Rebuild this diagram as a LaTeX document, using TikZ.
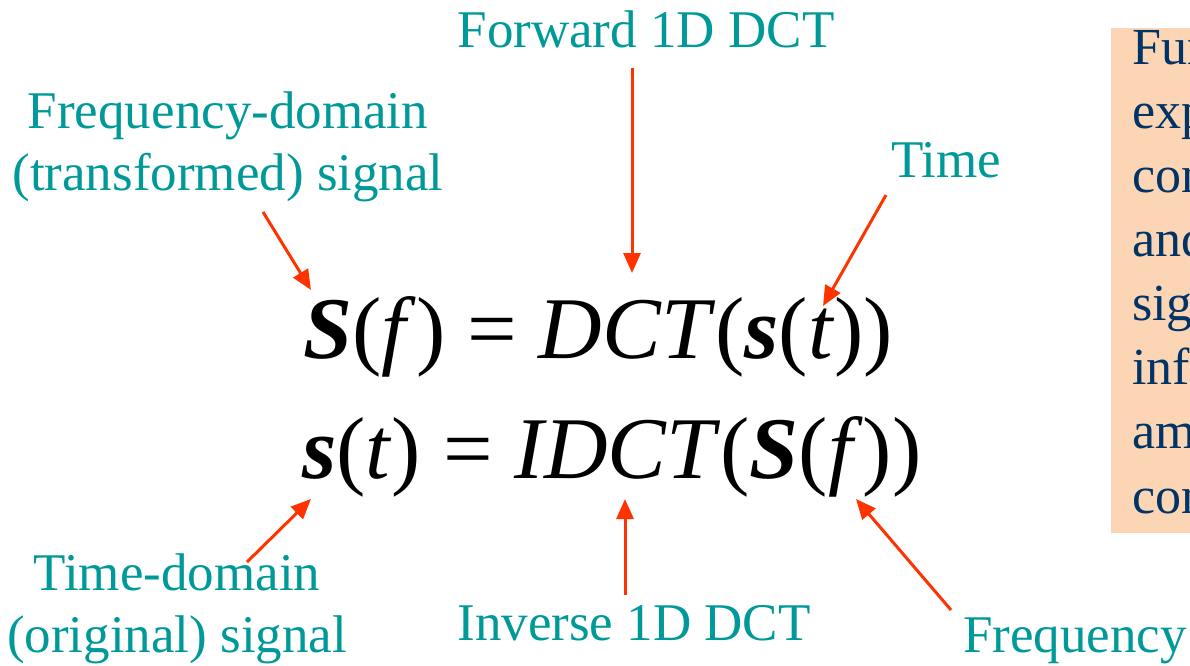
\documentclass[tikz,border=0pt]{standalone}
\usepackage{fontspec}
\setmainfont{Liberation Serif}
\usetikzlibrary{arrows.meta}
\definecolor{labelteal}{RGB}{0,153,153}
\definecolor{arrowred}{RGB}{255,51,0}
\definecolor{notepeach}{RGB}{252,213,180}
\definecolor{notenavy}{RGB}{0,51,102}
\newcommand{\sigS}{\textbf{\textit{S}}}
\newcommand{\sigs}{\textbf{\textit{s}}}
\newcommand{\vf}{\textit{f}}
\newcommand{\vt}{\textit{t}}

\begin{document}
\begin{tikzpicture}[
  x=1pt,y=-1pt,
  lbl/.style={text=labelteal,font=\fontsize{53}{62}\selectfont,inner sep=0pt},
  eqn/.style={font=\fontsize{88}{96}\selectfont,inner sep=0pt,anchor=base west},
  arr/.style={-{Triangle[length=20pt,width=17pt]},line width=3pt,draw=arrowred},
  note/.style={text=notenavy,font=\fontsize{52}{64.1}\selectfont,
               inner sep=0pt,align=left}
]
\useasboundingbox (0,0) rectangle (1190,665);
\fill[white] (0,0) rectangle (1190,665);

% Side note (cut by the page edge)
\begin{scope}
  \clip (0,0) rectangle (1190,665);
  \fill[notepeach] (1111,28) rectangle (1200,533);
  \node[note,anchor=base west] (note) at (1132,513)
    {Fundamental\\expresses\\content\\and\\signal\\information\\amount\\components};
\end{scope}

% Equations
\node[eqn] (fwdeq) at (303,358) {\sigS(\vf) = \textit{DCT}(\sigs(\vt))};
\node[eqn] (inveq) at (302,478) {\sigs(\vt) = \textit{IDCT}(\sigS(\vf))};

% Labels
\node[lbl,anchor=base] (fwd) at (646,47) {Forward 1D DCT};
\node[lbl,anchor=base,align=center] (fdom) at (228,190)
  {Frequency-domain\\(transformed) signal};
\node[lbl,anchor=base] (time) at (946,177) {Time};
\node[lbl,anchor=base,align=center] (tdom) at (177,652)
  {Time-domain\\(original) signal};
\node[lbl,anchor=base] (inv) at (634,640) {Inverse 1D DCT};
\node[lbl,anchor=base west] (freq) at (963,652) {Frequency};

% Arrow ends
\coordinate (fdom-tail) at (263,212);
\coordinate (fdom-head) at (311,290);
\coordinate (fwd-tail)  at (632,68);
\coordinate (fwd-head)  at (632,273);
\coordinate (time-tail) at (886,195);
\coordinate (time-head) at (823,306);
\coordinate (tdom-tail) at (247,562);
\coordinate (tdom-head) at (311,499);
\coordinate (inv-tail)  at (625,595);
\coordinate (inv-head)  at (625,499);
\coordinate (freq-tail) at (951,610);
\coordinate (freq-head) at (856,499);

% Arrows
\draw[arr] (fdom-tail) -- (fdom-head);
\draw[arr] (fwd-tail)  -- (fwd-head);
\draw[arr] (time-tail) -- (time-head);
\draw[arr] (tdom-tail) -- (tdom-head);
\draw[arr] (inv-tail)  -- (inv-head);
\draw[arr] (freq-tail) -- (freq-head);

\end{tikzpicture}
\end{document}
